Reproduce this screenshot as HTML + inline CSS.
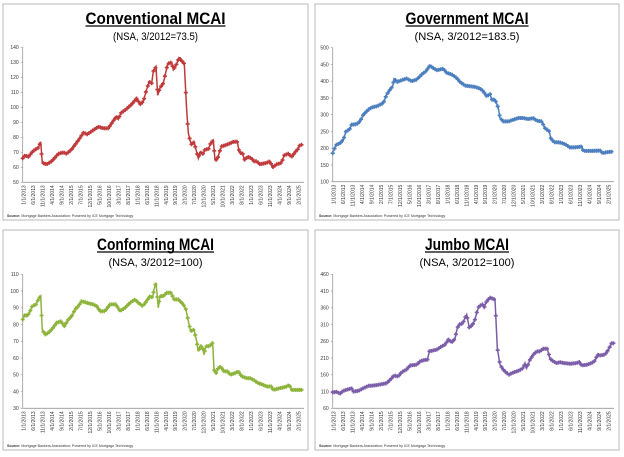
<!DOCTYPE html>
<html><head><meta charset="utf-8"><style>
html,body{margin:0;padding:0;background:#fff;}
svg{display:block;}
</style></head><body>
<svg id="s" width="624" height="457" xmlns="http://www.w3.org/2000/svg" font-family="Liberation Sans, sans-serif"></svg>
<script>
var S=document.getElementById('s');
var h='';
var panels=[
 {ox:0,bx:3,by:4,bw:305,bh:216,ul:140,sl:85,title:'Conventional MCAI',sub:'(NSA, 3/2012=73.5)',ymin:50,ymax:140,step:10,yTop:47.3,yBot:182.3,col:'#c0393b',
  pts:[68,66,75,68,85,67,100,71,115,73,122,77,127,63,140,62,155,64,175,69,190,70,200,69,215,72,235,78,250,83,262,82,275,84,295,87,310,86,325,86,340,91,350,94,355,92,362,96,380,99,395,102,410,106,420,102,430,104,440,112,448,117,455,116,460,124,468,127,473,108,480,113,490,116,498,124,503,129,515,130,520,125,530,129,537,133,545,131,553,129,560,98,565,83,570,78,575,75,582,77,590,70,595,66,600,70,610,69,615,72,625,72,632,76,640,78,645,65,652,65,658,70,665,74,680,75,690,76,700,77,712,77,718,70,728,69,733,65,743,67,755,66,760,64,770,64,780,62,800,63,810,64,818,60,830,62,845,63,852,68,865,69,875,67,885,70,893,72,900,75,910,75]},
 {ox:310,bx:315,by:4,bw:304,bh:216,ul:123,sl:105,title:'Government MCAI',sub:'(NSA, 3/2012=183.5)',ymin:100,ymax:500,step:50,yTop:47.7,yBot:181.7,col:'#4a7ebf',
  pts:[70,190,78,210,90,215,100,225,108,250,118,255,125,270,140,272,150,280,160,300,175,315,185,322,200,325,210,330,220,335,230,360,240,375,248,385,252,407,262,398,275,403,290,408,305,400,320,405,335,420,348,430,360,447,368,440,380,433,400,437,410,425,425,420,440,410,450,398,465,387,480,385,495,383,510,378,520,370,530,355,540,362,545,345,555,345,565,320,570,290,580,280,595,280,610,285,625,290,640,290,655,287,670,290,680,282,695,280,705,260,718,250,722,230,732,218,750,217,765,212,780,202,800,203,815,205,820,192,850,192,870,193,878,185,890,188,910,190]},
 {ox:0,bx:3,by:230,bw:305,bh:220,ul:117,sl:94,title:'Conforming MCAI',sub:'(NSA, 3/2012=100)',ymin:30,ymax:110,step:10,yTop:274.3,yBot:408.3,col:'#8cb43a',
  pts:[68,83,75,86,82,85,90,88,97,91,108,92,115,95,122,97,127,77,135,74,145,75,155,77,170,81,183,82,193,79,205,83,215,85,225,89,235,91,245,94,260,93,280,92,290,91,300,88,315,88,330,92,348,92,360,88,375,90,390,93,405,95,415,93,428,91,440,94,450,97,458,96,462,101,468,105,475,90,480,97,490,97,500,99,515,99,520,95,535,95,550,92,558,89,565,82,572,76,582,77,590,70,595,64,600,67,607,67,612,62,617,67,628,67,638,69,642,53,648,51,655,54,662,55,672,52,685,52,690,50,705,51,715,52,725,49,740,48,750,48,760,47,775,45,790,44,800,43,815,43,820,41,840,42,860,43,868,44,875,41,895,41,910,41]},
 {ox:310,bx:315,by:230,bw:304,bh:220,ul:84,sl:95,title:'Jumbo MCAI',sub:'(NSA, 3/2012=100)',ymin:60,ymax:460,step:50,yTop:274.3,yBot:408.3,col:'#7a5ca8',
  pts:[68,108,80,109,90,104,100,112,115,117,125,119,130,110,145,112,160,120,175,127,190,128,210,131,230,135,245,150,252,158,265,155,275,168,290,176,300,188,320,190,330,200,345,205,352,203,358,230,380,235,395,245,405,250,415,265,425,257,435,268,442,300,450,312,458,312,465,330,470,340,478,300,488,310,495,325,500,345,507,365,518,370,522,360,530,380,540,390,555,385,562,240,570,190,580,175,590,165,598,160,605,165,625,172,640,180,645,195,650,180,660,205,670,220,680,230,690,230,700,238,712,238,720,208,730,200,740,195,750,198,760,195,780,193,800,195,808,198,815,188,830,190,845,195,855,202,862,220,870,218,885,220,895,235,905,255,912,254]}
];
panels.forEach(function(p){
 var pts=p.pts;
 h+='<rect x="'+p.bx+'" y="'+p.by+'" width="'+p.bw+'" height="'+p.bh+'" fill="#fff" stroke="#b8b8b8" stroke-width="1"/>';
 var cx=p.bx+p.bw/2;
 h+='<text x="'+(cx-p.ul/2)+'" y="'+(p.by+20)+'" textLength="'+p.ul+'" lengthAdjust="spacingAndGlyphs" font-size="17" font-weight="bold">'+p.title+'</text>';
 h+='<line x1="'+(cx-p.ul/2)+'" x2="'+(cx+p.ul/2)+'" y1="'+(p.by+22)+'" y2="'+(p.by+22)+'" stroke="#000" stroke-width="1.2"/>';
 h+='<text x="'+(cx-p.sl/2)+'" y="'+(p.by+36)+'" textLength="'+p.sl+'" lengthAdjust="spacingAndGlyphs" font-size="11">'+p.sub+'</text>';
 var ax=p.ox+22.7;
 var Y=function(v){return p.yBot-(v-p.ymin)/(p.ymax-p.ymin)*(p.yBot-p.yTop);};
 h+='<line x1="'+ax+'" x2="'+ax+'" y1="'+p.yTop+'" y2="'+p.yBot+'" stroke="#999" stroke-width="0.8"/>';
 h+='<line x1="'+ax+'" x2="'+(p.ox+304)+'" y1="'+p.yBot+'" y2="'+p.yBot+'" stroke="#999" stroke-width="0.8"/>';
 for(var v=p.ymin;v<=p.ymax;v+=p.step){var y=Y(v);
  h+='<line x1="'+(ax-2)+'" x2="'+ax+'" y1="'+y+'" y2="'+y+'" stroke="#999" stroke-width="0.6"/>';
  h+='<text x="'+(ax-4)+'" y="'+(y+1.8)+'" text-anchor="end" font-size="5" fill="#333">'+v+'</text>';}
 for(var k=0;k<30;k++){var mi=k*5;var yr=2013+Math.floor(mi/12);var mo=mi%12+1;
  var x=p.ox+(72+mi*5.69)/3+1.5;
  h+='<text transform="translate('+x.toFixed(1)+','+(p.yBot+3)+') rotate(-90)" text-anchor="end" font-size="5" fill="#333">'+mo+'/1/'+yr+'</text>';}
 h+='<text x="'+(p.bx+4)+'" y="'+(p.by+p.bh-3)+'" font-size="3.6" fill="#333"><tspan font-weight="bold">Source:</tspan> Mortgage Bankers Association; Powered by ICE Mortgage Technology</text>';
 var zs=[],vs=[];for(var i=0;i<pts.length;i+=2){zs.push(pts[i]);vs.push(pts[i+1]);}
 var interp=function(z){for(var i=0;i<zs.length-1;i++){if(z<=zs[i+1]){var t=(z-zs[i])/((zs[i+1]-zs[i])||1);return vs[i]+t*(vs[i+1]-vs[i]);}}return vs[vs.length-1];};
 var poly=[];
 for(var i=0;i<zs.length;i++)poly.push((p.ox+zs[i]/3).toFixed(1)+','+Y(vs[i]).toFixed(1));
 h+='<polyline points="'+poly.join(' ')+'" fill="none" stroke="'+p.col+'" stroke-width="1.5"/>';
 var mk='';
 for(var z=68;z<=zs[zs.length-1];z+=5.69){var x2=p.ox+z/3,y2=Y(interp(z));
  mk+='<path d="M'+(x2-2).toFixed(1)+','+y2.toFixed(1)+'h4M'+x2.toFixed(1)+','+(y2-2).toFixed(1)+'v4"/>';}
 h+='<g stroke="'+p.col+'" stroke-width="1.6">'+mk+'</g>';
});
S.innerHTML=h;
</script>
</body></html>
